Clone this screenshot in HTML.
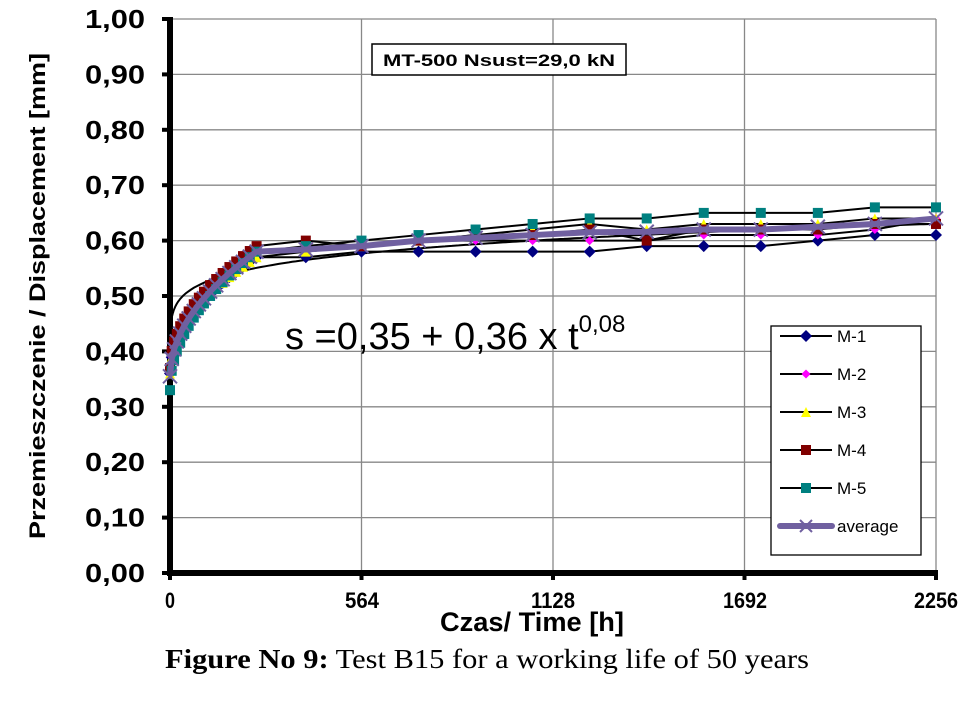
<!DOCTYPE html>
<html><head><meta charset="utf-8"><style>
html,body{margin:0;padding:0;background:#fff;width:966px;height:704px;overflow:hidden}
svg{display:block}
</style></head><body>
<svg id="s" width="966" height="704" xmlns="http://www.w3.org/2000/svg" style="font-family:'Liberation Sans',Arial,sans-serif">
<g id="grid" stroke="#888" stroke-width="1.3"></g>
<g id="series"></g>
<g font-weight="bold" font-size="26" text-anchor="end" id="ylab"></g>
<g font-weight="bold" font-size="22" text-anchor="middle">
<text x="170" y="608" textLength="10" lengthAdjust="spacingAndGlyphs">0</text>
<text x="362" y="608" textLength="34" lengthAdjust="spacingAndGlyphs">564</text>
<text x="553" y="608" textLength="44" lengthAdjust="spacingAndGlyphs">1128</text>
<text x="745" y="608" textLength="44" lengthAdjust="spacingAndGlyphs">1692</text>
<text x="936" y="608" textLength="44" lengthAdjust="spacingAndGlyphs">2256</text>
</g>
<text x="532" y="631" font-weight="bold" font-size="27" text-anchor="middle" textLength="184" lengthAdjust="spacingAndGlyphs">Czas/ Time [h]</text>
<text transform="translate(45,296) rotate(-90)" font-weight="bold" font-size="22" text-anchor="middle" textLength="486" lengthAdjust="spacingAndGlyphs">Przemieszczenie / Displacement [mm]</text>
<text x="487" y="668" style="font-family:'Liberation Serif',serif" font-size="27" text-anchor="middle" textLength="644" lengthAdjust="spacingAndGlyphs"><tspan font-weight="bold">Figure No 9:</tspan> Test B15 for a working life of 50 years</text>
<rect x="372" y="44" width="254" height="31" fill="#fff" stroke="#000" stroke-width="1.5"/>
<text x="499" y="66" font-weight="bold" font-size="17" text-anchor="middle" textLength="232" lengthAdjust="spacingAndGlyphs">MT-500  Nsust=29,0 kN</text>
<text x="285" y="349" font-size="38">s =0,35 + 0,36 x t<tspan font-size="24" dy="-17">0,08</tspan></text>
<rect x="771" y="326" width="150" height="229" fill="#fff" stroke="#000" stroke-width="1.3"/>
<g id="leg" font-size="17"></g>
</svg>
<script>
const X=t=>170+t*766/2256, Y=v=>573-v*554;
const ns="http://www.w3.org/2000/svg";
function el(p,tag,a,txt){const e=document.createElementNS(ns,tag);for(const k in a)e.setAttribute(k,a[k]);if(txt!==undefined)e.textContent=txt;document.getElementById(p).appendChild(e);return e;}
for(let i=1;i<=10;i++){el('grid','line',{x1:170,x2:936,y1:Y(i/10),y2:Y(i/10)});}
[564,1128,1692,2256].forEach(t=>el('grid','line',{x1:X(t),x2:X(t),y1:19,y2:573}));
for(let i=0;i<=10;i++){el('ylab','text',{x:145,y:Y(i/10)+9,textLength:60,lengthAdjust:'spacingAndGlyphs'},(i/10).toFixed(2).replace('.',','));}
el('grid','line',{x1:170,x2:170,y1:17,y2:576,stroke:'#000','stroke-width':6});
el('grid','line',{x1:167,x2:938,y1:573,y2:573,stroke:'#000','stroke-width':6});
for(let i=0;i<=10;i++)el('grid','line',{x1:162,x2:172,y1:Y(i/10),y2:Y(i/10),stroke:'#000','stroke-width':4});
[0,564,1128,1692,2256].forEach(t=>el('grid','line',{x1:X(t),x2:X(t),y1:570,y2:580,stroke:'#000','stroke-width':4}));
const late=[400,564,732,900,1068,1236,1404,1572,1740,1908,2076,2256];
const S=[
 {c:'#000080',m:'d',s:6,v0:0.36,ve:0.57,l:[0.57,0.58,0.58,0.58,0.58,0.58,0.59,0.59,0.59,0.60,0.61,0.61]},
 {c:'#ff00ff',m:'d',s:4.5,v0:0.36,ve:0.58,l:[0.58,0.59,0.60,0.60,0.60,0.60,0.60,0.61,0.61,0.61,0.62,0.64]},
 {c:'#ffff00',m:'t',s:5,v0:0.36,ve:0.57,l:[0.58,0.59,0.60,0.61,0.62,0.63,0.62,0.63,0.63,0.63,0.64,0.64]},
 {c:'#800000',m:'s',s:5,v0:0.37,ve:0.59,l:[0.60,0.59,0.60,0.61,0.61,0.62,0.60,0.62,0.62,0.62,0.63,0.63]},
 {c:'#008080',m:'s',s:5,v0:0.33,ve:0.58,l:[0.59,0.60,0.61,0.62,0.63,0.64,0.64,0.65,0.65,0.65,0.66,0.66]}
];
function mk(g,m,x,y,s,c){
 if(m==='d')el(g,'polygon',{points:`${x},${y-s} ${x+s},${y} ${x},${y+s} ${x-s},${y}`,fill:c});
 else if(m==='s')el(g,'rect',{x:x-s,y:y-s,width:2*s,height:2*s,fill:c});
 else if(m==='t')el(g,'polygon',{points:`${x},${y-s} ${x+s},${y+s} ${x-s},${y+s}`,fill:c});
 else {el(g,'path',{d:`M${x-s} ${y-s}L${x+s} ${y+s}M${x-s} ${y+s}L${x+s} ${y-s}`,stroke:c,'stroke-width':2});}
}
const early=[0,5,12,20,30,42,55,70,85,100,118,136,155,175,195,215,235,255];
function pts(sr){const p=[];early.forEach(t=>p.push([t,sr.v0+(sr.ve-sr.v0)*Math.pow(t/255,0.5)]));late.forEach((t,i)=>p.push([t,sr.l[i]]));return p;}
let d='';for(let t=0;t<=2256;t+=t<50?1:10){const v=0.35+0.086*Math.pow(t,0.153);d+=(d?'L':'M')+X(t).toFixed(1)+' '+Y(v).toFixed(1);}
S.forEach(sr=>{const p=pts(sr);el('series','polyline',{points:p.map(q=>X(q[0])+','+Y(q[1])).join(' '),fill:'none',stroke:'#000','stroke-width':2});});
el('series','path',{d:d,fill:'none',stroke:'#000','stroke-width':2});
S.forEach(sr=>{pts(sr).forEach(q=>mk('series',sr.m,X(q[0]),Y(q[1]),sr.s,sr.c));});
const av=[];early.forEach(t=>av.push([t,0.355+0.225*Math.pow(t/255,0.5)]));
[0.584,0.59,0.60,0.605,0.61,0.615,0.616,0.62,0.62,0.625,0.63,0.64].forEach((v,i)=>av.push([late[i],v]));
el('series','polyline',{points:av.map(q=>X(q[0])+','+Y(q[1])).join(' '),fill:'none',stroke:'#7060a0','stroke-width':6,'stroke-linejoin':'round'});
av.forEach(q=>mk('series','x',X(q[0]),Y(q[1]),7,'#7060a0'));
const names=['M-1','M-2','M-3','M-4','M-5'];
S.forEach((sr,i)=>{const y=336+i*38;el('leg','line',{x1:780,x2:832,y1:y,y2:y,stroke:'#000','stroke-width':2});mk('leg',sr.m,806,y,sr.s,sr.c);el('leg','text',{x:837,y:y+6},names[i]);});
{const y=526;el('leg','line',{x1:780,x2:832,y1:y,y2:y,stroke:'#7060a0','stroke-width':6,'stroke-linecap':'round'});mk('leg','x',806,y,6,'#7060a0');el('leg','text',{x:837,y:y+6},'average');}
</script>
</body></html>
